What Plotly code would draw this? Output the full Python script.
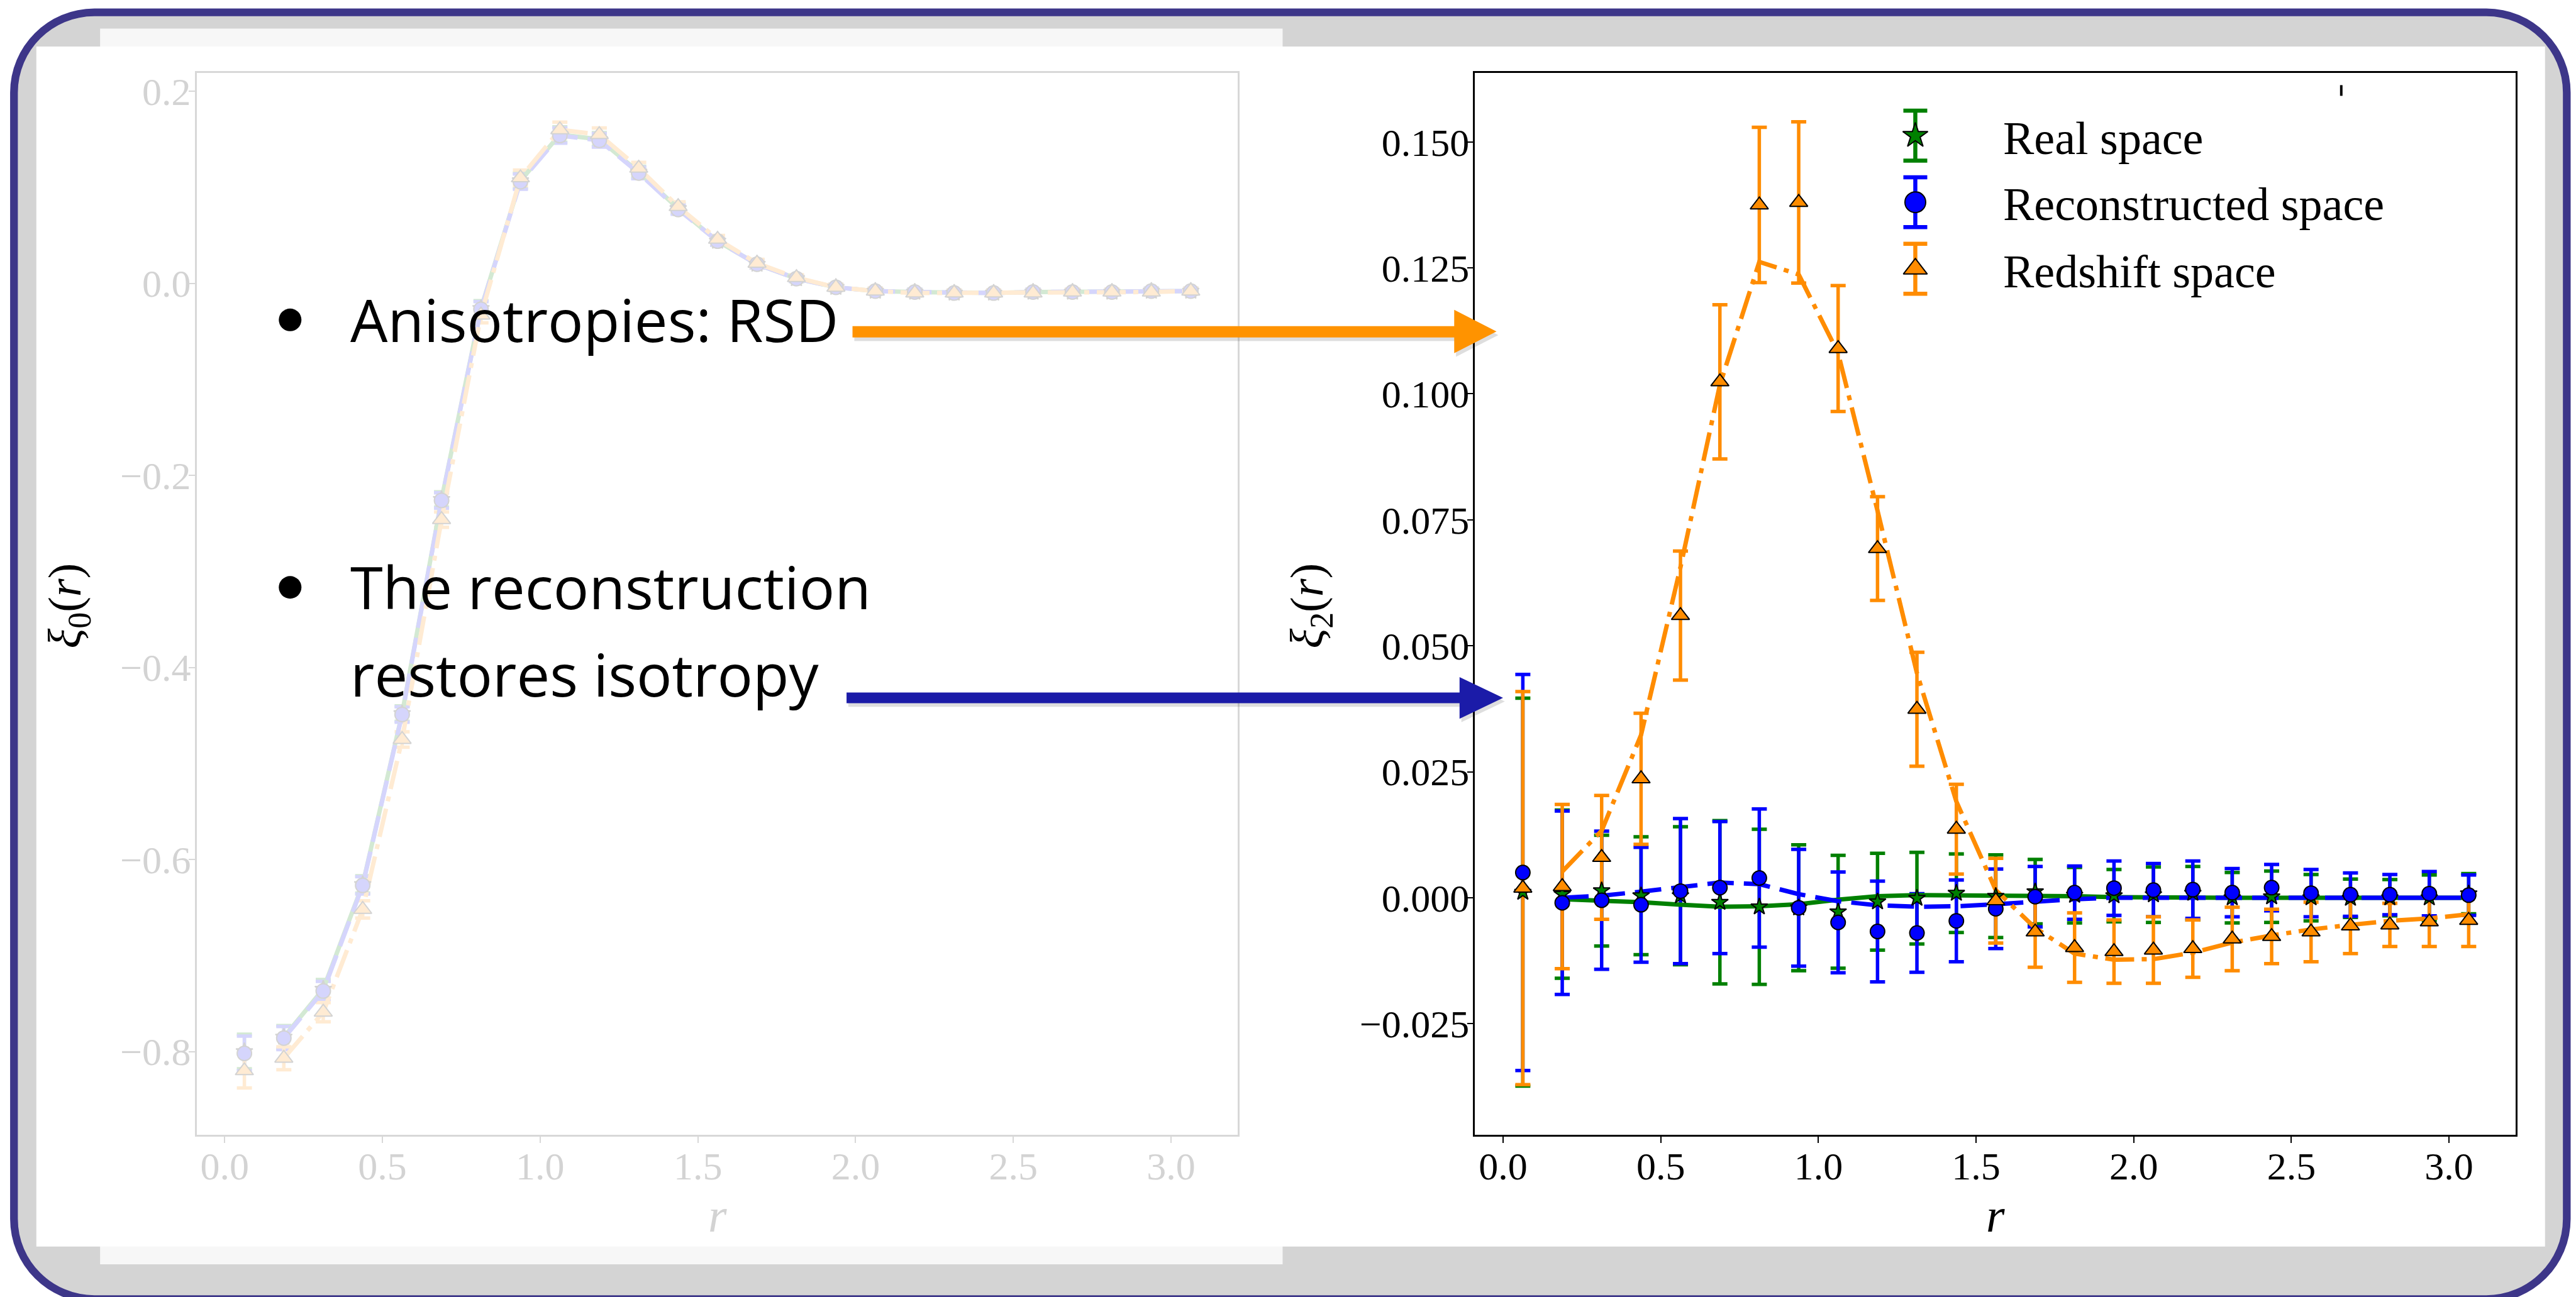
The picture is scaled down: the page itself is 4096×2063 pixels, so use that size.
import plotly.graph_objects as go

# ---------------- data ----------------
r = [0.0625, 0.1875, 0.3125, 0.4375, 0.5625, 0.6875, 0.8125, 0.9375, 1.0625, 1.1875,
     1.3125, 1.4375, 1.5625, 1.6875, 1.8125, 1.9375, 2.0625, 2.1875, 2.3125, 2.4375,
     2.5625, 2.6875, 2.8125, 2.9375, 3.0625]

# monopole (faded left panel)
xi0_real = [-0.800, -0.785, -0.735, -0.626, -0.448, -0.225, -0.026, 0.107, 0.155, 0.150,
            0.116, 0.078, 0.044, 0.020, 0.005, -0.004, -0.008, -0.009, -0.010, -0.010,
            -0.009, -0.009, -0.009, -0.008, -0.008]
xi0_recon = [-0.802, -0.786, -0.737, -0.627, -0.449, -0.226, -0.027, 0.106, 0.154, 0.149,
             0.115, 0.077, 0.044, 0.020, 0.005, -0.004, -0.008, -0.009, -0.010, -0.010,
             -0.009, -0.009, -0.009, -0.008, -0.008]
xi0_rsd = [-0.820, -0.807, -0.759, -0.652, -0.475, -0.246, -0.033, 0.110, 0.160, 0.155,
           0.120, 0.080, 0.046, 0.021, 0.006, -0.004, -0.008, -0.010, -0.010, -0.010,
           -0.010, -0.009, -0.009, -0.009, -0.008]
xi0_err = [0.018, 0.012, 0.010, 0.009, 0.008, 0.008, 0.008, 0.008, 0.008, 0.007,
           0.006, 0.005, 0.004, 0.004, 0.003, 0.003, 0.003, 0.003, 0.003, 0.003,
           0.003, 0.003, 0.003, 0.003, 0.003]

# quadrupole (right panel)
xi2_real = [0.0011, 0.0007, 0.0014, 0.0004, 0.0004, -0.0009, -0.0018, -0.0020, -0.0028, -0.0008,
            -0.0001, 0.0009, 0.0003, 0.0012, 0.0005, 0.0004, 0.0006, 0.0009, 0.0000, 0.0002,
            0.0000, -0.0001, 0.0000, 0.0000, 0.0008]
xi2_real_err = [0.0385, 0.0167, 0.0110, 0.0117, 0.0137, 0.0162, 0.0154, 0.0125, 0.0112, 0.0096,
                0.0091, 0.0078, 0.0082, 0.0064, 0.0055, 0.0052, 0.0055, 0.0053, 0.0050, 0.0051,
                0.0046, 0.0038, 0.0036, 0.0045, 0.0040]
xi2_recon = [0.0050, -0.0010, -0.0005, -0.0014, 0.0013, 0.0020, 0.0039, -0.0020, -0.0049, -0.0067,
             -0.0070, -0.0046, -0.0022, 0.0002, 0.0010, 0.0019, 0.0015, 0.0016, 0.0010, 0.0020,
             0.0009, 0.0006, 0.0006, 0.0008, 0.0005]
xi2_recon_err = [0.0393, 0.0182, 0.0137, 0.0114, 0.0144, 0.0131, 0.0137, 0.0116, 0.0100, 0.0100,
                 0.0078, 0.0081, 0.0079, 0.0060, 0.0053, 0.0054, 0.0053, 0.0057, 0.0048, 0.0046,
                 0.0047, 0.0043, 0.0040, 0.0044, 0.0040]
xi2_rsd = [0.0019, 0.0022, 0.0080, 0.0236, 0.0560, 0.1024, 0.1375, 0.1380, 0.1090, 0.0693,
           0.0374, 0.0136, -0.0006, -0.0068, -0.0099, -0.0107, -0.0104, -0.0101, -0.0082, -0.0077,
           -0.0068, -0.0056, -0.0054, -0.0048, -0.0045]
xi2_rsd_err = [0.0390, 0.0163, 0.0123, 0.0130, 0.0128, 0.0153, 0.0154, 0.0160, 0.0125, 0.0103,
               0.0113, 0.0089, 0.0084, 0.0070, 0.0069, 0.0063, 0.0066, 0.0057, 0.0063, 0.0054,
               0.0059, 0.0055, 0.0043, 0.0049, 0.0052]

# model curves (from the second bin onward)
r_model = r[1:]
model_real = [-0.0003, -0.0005, -0.0009, -0.0014, -0.0018, -0.0017, -0.0013, -0.0004, 0.0003, 0.0005,
              0.0005, 0.0005, 0.0004, 0.0003, 0.0001, 0.0000, 0.0000, 0.0000, 0.0000, 0.0000,
              0.0000, 0.0000, 0.0000, 0.0000]
model_recon = [0.0000, 0.0004, 0.0012, 0.0021, 0.0030, 0.0027, 0.0007, -0.0007, -0.0015, -0.0018,
               -0.0017, -0.0013, -0.0007, -0.0003, 0.0000, 0.0000, 0.0000, 0.0000, 0.0000, 0.0000,
               0.0000, 0.0000, 0.0000, 0.0000]
model_rsd = [0.0052, 0.0133, 0.0323, 0.0656, 0.1018, 0.1262, 0.1237, 0.1081, 0.0768, 0.0446,
             0.0191, 0.0015, -0.0060, -0.0111, -0.0123, -0.0122, -0.0109, -0.0089, -0.0075, -0.0063,
             -0.0054, -0.0046, -0.0041, -0.0033]

r_ticks = [0.0, 0.5, 1.0, 1.5, 2.0, 2.5, 3.0]
r_ticktext = ["0.0", "0.5", "1.0", "1.5", "2.0", "2.5", "3.0"]
xi0_ticks = [-0.8, -0.6, -0.4, -0.2, 0.0, 0.2]
xi0_ticktext = ["\u22120.8", "\u22120.6", "\u22120.4", "\u22120.2", "0.0", "0.2"]
xi2_ticks = [-0.025, 0.0, 0.025, 0.05, 0.075, 0.1, 0.125, 0.15]
xi2_ticktext = ["\u22120.025", "0.000", "0.025", "0.050", "0.075", "0.100", "0.125", "0.150"]

legend_labels = ["Real space", "Reconstructed space", "Redshift space"]
bullet_lines = ["Anisotropies: RSD", "The reconstruction", "restores isotropy"]

# ---------------- geometry helpers (reference pixel grid) ----------------
RW, RH = 4324.0, 2178.0


def px(X):
    return X / RW


def py(Y):
    return 1 - Y / RH


def poly(points):
    return "M " + " L ".join(f"{px(a):.5f},{py(b):.5f}" for a, b in points) + " Z"


def rrect(x0, y0, x1, y1, R):
    k = 0.5523 * R
    P = lambda a, b: f"{px(a):.5f},{py(b):.5f}"
    return (f"M {P(x0 + R, y0)} L {P(x1 - R, y0)} "
            f"C {P(x1 - R + k, y0)} {P(x1, y0 + R - k)} {P(x1, y0 + R)} "
            f"L {P(x1, y1 - R)} "
            f"C {P(x1, y1 - R + k)} {P(x1 - R + k, y1)} {P(x1 - R, y1)} "
            f"L {P(x0 + R, y1)} "
            f"C {P(x0 + R - k, y1)} {P(x0, y1 - R + k)} {P(x0, y1 - R)} "
            f"L {P(x0, y0 + R)} "
            f"C {P(x0, y0 + R - k)} {P(x0 + R - k, y0)} {P(x0 + R, y0)} Z")


SERIF = "Liberation Serif, Times New Roman, serif"
GREEN, BLUE, ORANGE = "#008000", "#0000ff", "#ff8c00"
F_GREEN, F_BLUE, F_ORANGE, F_GRAY = "#d3e9d3", "#d5d5fc", "#ffebd3", "#d3d3d3"

fig = go.Figure()


def add_panel(xa, ya, yr, yc, yb, ye_g, ye_b, ye_o, mg, mb, mo, cols, edge, lw):
    cg, cb, co = cols
    # error bars (below everything)
    for yy, ee, cc in ((yr, ye_g, cg), (yc, ye_b, cb), (yb, ye_o, co)):
        fig.add_trace(go.Scatter(x=r, y=yy, mode="markers", xaxis=xa, yaxis=ya,
                                 marker=dict(size=1, color="rgba(0,0,0,0)"),
                                 error_y=dict(type="data", array=ee, color=cc,
                                              thickness=5.5, width=12),
                                 showlegend=False, hoverinfo="skip"))
    # model lines
    fig.add_trace(go.Scatter(x=r_model, y=mg, mode="lines", xaxis=xa, yaxis=ya,
                             line=dict(color=cg, width=lw), showlegend=False))
    fig.add_trace(go.Scatter(x=r_model, y=mb, mode="lines", xaxis=xa, yaxis=ya,
                             line=dict(color=cb, width=lw, dash="42px,16px"), showlegend=False))
    fig.add_trace(go.Scatter(x=r_model, y=mo, mode="lines", xaxis=xa, yaxis=ya,
                             line=dict(color=co, width=lw, dash="46px,12px,8px,12px"),
                             showlegend=False))
    # markers
    fig.add_trace(go.Scatter(x=r, y=yr, mode="markers", xaxis=xa, yaxis=ya,
                             marker=dict(symbol="star", size=20, color=cg,
                                         line=dict(color=edge, width=2)), showlegend=False))
    fig.add_trace(go.Scatter(x=r, y=yc, mode="markers", xaxis=xa, yaxis=ya,
                             marker=dict(symbol="circle", size=23, color=cb,
                                         line=dict(color=edge, width=2)), showlegend=False))
    fig.add_trace(go.Scatter(x=r, y=yb, mode="markers", xaxis=xa, yaxis=ya,
                             marker=dict(symbol="triangle-up", size=25, color=co,
                                         line=dict(color=edge, width=2)), showlegend=False))


# left (faded) monopole panel
add_panel("x", "y", xi0_real, xi0_recon, xi0_rsd, xi0_err, xi0_err, xi0_err,
          xi0_real[1:], xi0_recon[1:], xi0_rsd[1:],
          (F_GREEN, F_BLUE, F_ORANGE), F_GRAY, 7)
# right quadrupole panel
add_panel("x2", "y2", xi2_real, xi2_recon, xi2_rsd, xi2_real_err, xi2_recon_err, xi2_rsd_err,
          model_real, model_recon, model_rsd,
          (GREEN, BLUE, ORANGE), "#000000", 7)

# legend glyphs on an overlay axis measured in reference pixels
leg_x = [3215, 3215, 3215]
leg_y = [224, 336, 448]
leg_sym = ["star", "circle", "triangle-up"]
leg_col = [GREEN, BLUE, ORANGE]
leg_size = [30, 33, 33]
for i in range(3):
    fig.add_trace(go.Scatter(x=[leg_x[i]], y=[leg_y[i]], mode="markers", xaxis="x3", yaxis="y3",
                             marker=dict(size=1, color="rgba(0,0,0,0)"),
                             error_y=dict(type="data", array=[42], color=leg_col[i],
                                          thickness=6.5, width=19),
                             showlegend=False, hoverinfo="skip"))
    fig.add_trace(go.Scatter(x=[leg_x[i]], y=[leg_y[i]], mode="markers", xaxis="x3", yaxis="y3",
                             marker=dict(symbol=leg_sym[i], size=leg_size[i], color=leg_col[i],
                                         line=dict(color="#000000", width=2)),
                             showlegend=False, hoverinfo="skip"))

# ---------------- axes ----------------
ydom = [py(1905), py(118.5)]


def axstyle(col, labcol):
    return dict(showline=True, linecolor=col, linewidth=2.5, mirror=True, ticks="outside",
                ticklen=10, tickwidth=2, tickcolor=col, showgrid=False, zeroline=False,
                ticklabelstandoff=-16,
                tickfont=dict(family=SERIF, size=62, color=labcol))


fig.update_layout(
    width=4096, height=2063, margin=dict(l=0, r=0, t=0, b=0),
    paper_bgcolor="#ffffff", plot_bgcolor="rgba(0,0,0,0)", showlegend=False,
    xaxis=dict(domain=[px(330), px(2078)], range=[-0.089, 3.212], anchor="y",
               tickvals=r_ticks, ticktext=r_ticktext, **axstyle("#d8d8d8", "#d3d3d3")),
    yaxis=dict(domain=ydom, range=[-0.8867, 0.2192], anchor="x",
               tickvals=xi0_ticks, ticktext=xi0_ticktext, **axstyle("#d8d8d8", "#d3d3d3")),
    xaxis2=dict(domain=[px(2476), px(4223)], range=[-0.089, 3.212], anchor="y2",
                tickvals=r_ticks, ticktext=r_ticktext, **axstyle("#000000", "#000000")),
    yaxis2=dict(domain=ydom, range=[-0.04705, 0.1637], anchor="x2",
                tickvals=xi2_ticks, ticktext=xi2_ticktext, **axstyle("#000000", "#000000")),
    xaxis3=dict(domain=[0, 1], range=[0, RW], visible=False, anchor="y3", fixedrange=True),
    yaxis3=dict(domain=[0, 1], range=[RH, 0], visible=False, anchor="x3", fixedrange=True),
)

# ---------------- slide decorations ----------------
shapes = [
    dict(type="path", xref="paper", yref="paper", layer="below",
         path=rrect(23.5, 16.5, 4308.5, 2181.5, 135),
         fillcolor="#d4d4d4", line=dict(color="#3d3689", width=12.3)),
    dict(type="rect", xref="paper", yref="paper", layer="below",
         x0=px(168), x1=px(2153), y0=py(2123), y1=py(44),
         fillcolor="#f7f7f7", line=dict(width=0)),
    dict(type="rect", xref="paper", yref="paper", layer="below",
         x0=px(61), x1=px(4272), y0=py(2093), y1=py(74),
         fillcolor="#ffffff", line=dict(width=0)),
]
# bullets
for cy in (534, 984):
    shapes.append(dict(type="circle", xref="paper", yref="paper", layer="above",
                       x0=px(487 - 19), x1=px(487 + 19), y0=py(cy + 19), y1=py(cy - 19),
                       fillcolor="#000000", line=dict(width=0)))
# arrows (shadow + body)
orange_arrow = [(1431, 544.5), (2441, 544.5), (2441, 517), (2512, 553.5), (2441, 590),
                (2441, 563.5), (1431, 563.5)]
blue_arrow = [(1421, 1161), (2450, 1161), (2450, 1135), (2523, 1170), (2450, 1205),
              (2450, 1179), (1421, 1179)]
for pts, col in ((orange_arrow, "#ff9300"), (blue_arrow, "#1b1ba8")):
    shadow = [(a + 3, b + 6) for a, b in pts]
    shapes.append(dict(type="path", xref="paper", yref="paper", layer="above",
                       path=poly(shadow), fillcolor="rgba(0,0,0,0.13)", line=dict(width=0)))
    shapes.append(dict(type="path", xref="paper", yref="paper", layer="above",
                       path=poly(pts), fillcolor=col, line=dict(width=0)))
# small stray tick mark at top of right panel
shapes.append(dict(type="line", xref="paper", yref="paper", layer="above",
                   x0=px(3930), x1=px(3930), y0=py(157), y1=py(139),
                   line=dict(color="#000000", width=4)))
fig.update_layout(shapes=shapes)

# ---------------- texts ----------------
ann = []
SANS = "Open Sans, Noto Sans, sans-serif"
for txt, yy in zip(bullet_lines, (533, 983, 1130)):
    ann.append(dict(text=txt, x=px(586), y=py(yy), xref="paper", yref="paper",
                    xanchor="left", yanchor="middle", showarrow=False,
                    font=dict(family=SANS, size=94, color="#000000")))
ann.append(dict(text="<i>\u03be</i><sub>0</sub>(<i>r</i>)", x=px(115), y=py(1015),
                xref="paper", yref="paper", textangle=-90, showarrow=False,
                xanchor="center", yanchor="middle",
                font=dict(family=SERIF, size=74, color="#000000")))
ann.append(dict(text="<i>\u03be</i><sub>2</sub>(<i>r</i>)", x=px(2200), y=py(1015),
                xref="paper", yref="paper", textangle=-90, showarrow=False,
                xanchor="center", yanchor="middle",
                font=dict(family=SERIF, size=74, color="#000000")))
ann.append(dict(text="<i>r</i>", x=px(1204), y=py(2040), xref="paper", yref="paper",
                showarrow=False, xanchor="center", yanchor="middle",
                font=dict(family=SERIF, size=76, color="#d3d3d3")))
ann.append(dict(text="<i>r</i>", x=px(3350), y=py(2040), xref="paper", yref="paper",
                showarrow=False, xanchor="center", yanchor="middle",
                font=dict(family=SERIF, size=76, color="#000000")))
for lab, yy in zip(legend_labels, (229, 340, 453)):
    ann.append(dict(text=lab, x=px(3360), y=py(yy), xref="paper", yref="paper",
                    xanchor="left", yanchor="middle", showarrow=False,
                    font=dict(family=SERIF, size=74, color="#000000")))
fig.update_layout(annotations=ann)

fig.write_html("out.html")
